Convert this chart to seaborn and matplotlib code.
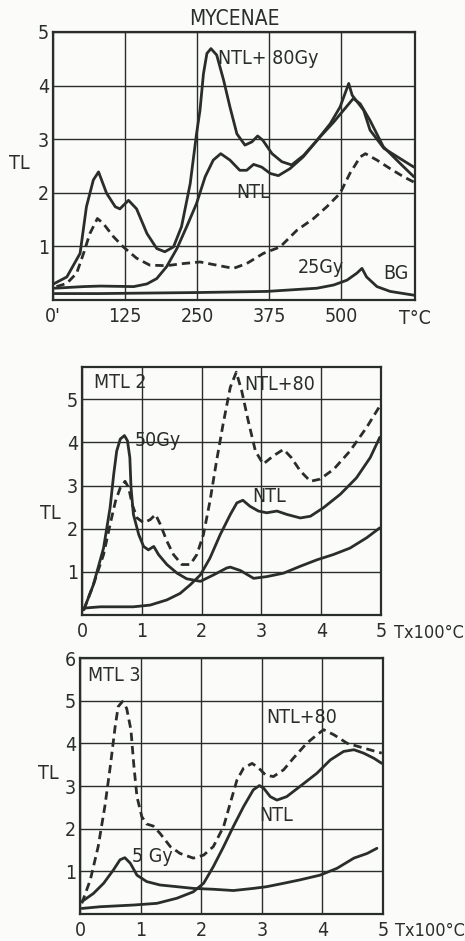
import matplotlib
matplotlib.use("Agg")
import matplotlib.pyplot as plt
import seaborn as sns
import pandas as pd
import numpy as np

# ---------------- Panel 1: MYCENAE (T in deg C) ----------------
myc_ntl80_T = [1, 24, 47, 58, 70, 79, 93, 108, 116, 131, 145, 163, 180, 194, 209, 223, 238, 249, 255,
               261, 267, 274, 284, 296, 307, 319, 333, 345, 355, 364, 380, 397, 414, 435, 458, 481,
               498, 513, 519, 539, 550, 574, 602, 626]
myc_ntl80_TL = [0.30, 0.43, 0.87, 1.74, 2.24, 2.39, 1.99, 1.74, 1.70, 1.86, 1.70, 1.24, 0.96, 0.90, 0.99,
                1.37, 2.17, 3.10, 3.54, 4.22, 4.60, 4.69, 4.57, 4.10, 3.60, 3.10, 2.89, 2.95, 3.06, 2.98,
                2.73, 2.58, 2.52, 2.70, 2.98, 3.29, 3.60, 4.04, 3.82, 3.54, 3.17, 2.83, 2.64, 2.48]

myc_ntl_T = [3, 53, 82, 140, 163, 180, 197, 215, 232, 249, 264, 278, 291, 307, 324, 336, 348, 362, 377,
             391, 411, 434, 463, 487, 504, 521, 533, 550, 573, 602, 626]
myc_ntl_TL = [0.22, 0.25, 0.26, 0.25, 0.30, 0.40, 0.62, 0.96, 1.37, 1.80, 2.30, 2.61, 2.73, 2.61, 2.42,
              2.42, 2.53, 2.48, 2.36, 2.32, 2.45, 2.67, 3.04, 3.32, 3.54, 3.76, 3.66, 3.35, 2.86, 2.55, 2.30]

myc_25_T = [6, 24, 41, 53, 64, 77, 87, 105, 122, 145, 168, 197, 226, 255, 284, 313, 336, 365, 394, 423,
            452, 475, 498, 515, 533, 542, 562, 585, 608, 626]
myc_25_TL = [0.25, 0.31, 0.50, 0.87, 1.24, 1.52, 1.43, 1.18, 0.99, 0.78, 0.65, 0.64, 0.68, 0.71, 0.65,
             0.59, 0.68, 0.87, 0.99, 1.30, 1.52, 1.74, 1.99, 2.36, 2.67, 2.73, 2.61, 2.45, 2.30, 2.20]

myc_bg_T = [3, 81, 255, 371, 458, 487, 510, 527, 536, 544, 562, 585, 626]
myc_bg_TL = [0.12, 0.12, 0.14, 0.16, 0.22, 0.28, 0.37, 0.50, 0.59, 0.43, 0.25, 0.16, 0.09]

# ---------------- Panel 2: MTL 2 (T x 100 deg C) ----------------
mtl2_ntl80_T = [0.03, 0.19, 0.36, 0.47, 0.56, 0.64, 0.72, 0.78, 0.84, 0.92, 1.03, 1.14, 1.23, 1.31, 1.42,
                1.53, 1.67, 1.81, 1.92, 2.03, 2.14, 2.25, 2.36, 2.48, 2.58, 2.67, 2.78, 2.90, 3.03, 3.20,
                3.37, 3.50, 3.65, 3.82, 3.98, 4.21, 4.48, 4.76, 5.00]
mtl2_ntl80_TL = [0.12, 0.70, 1.40, 2.10, 2.64, 2.95, 3.10, 2.95, 2.56, 2.25, 2.14, 2.21, 2.33, 2.10, 1.71,
                 1.40, 1.17, 1.17, 1.40, 1.86, 2.64, 3.57, 4.43, 5.28, 5.63, 5.20, 4.50, 3.80, 3.50, 3.69,
                 3.84, 3.65, 3.34, 3.10, 3.15, 3.38, 3.80, 4.35, 4.89]

mtl2_50_T = [0.03, 0.19, 0.36, 0.47, 0.53, 0.58, 0.64, 0.71, 0.76, 0.80, 0.82, 0.86, 0.95, 1.03, 1.11,
             1.20, 1.28, 1.42, 1.59, 1.75, 1.98, 2.20, 2.42, 2.48, 2.65, 2.87, 3.09, 3.37, 3.65, 3.93,
             4.20, 4.48, 4.76, 4.98]
mtl2_50_TL = [0.12, 0.70, 1.55, 2.49, 3.26, 3.80, 4.08, 4.16, 4.04, 3.65, 2.95, 2.33, 1.86, 1.59, 1.51,
              1.59, 1.40, 1.17, 0.97, 0.84, 0.78, 0.93, 1.09, 1.11, 1.03, 0.85, 0.89, 0.97, 1.13, 1.28,
              1.40, 1.55, 1.79, 2.02]

mtl2_ntl_T = [0.03, 0.31, 0.86, 1.14, 1.42, 1.64, 1.81, 1.98, 2.14, 2.31, 2.48, 2.59, 2.69, 2.81, 2.95,
              3.09, 3.26, 3.43, 3.65, 3.82, 4.04, 4.32, 4.59, 4.82, 4.98]
mtl2_ntl_TL = [0.16, 0.19, 0.19, 0.23, 0.35, 0.50, 0.70, 0.93, 1.32, 1.86, 2.33, 2.60, 2.66, 2.52, 2.41,
               2.37, 2.41, 2.33, 2.25, 2.29, 2.49, 2.80, 3.18, 3.65, 4.12]

# ---------------- Panel 3: MTL 3 (T x 100 deg C) ----------------
mtl3_ntl80_T = [0.03, 0.17, 0.30, 0.41, 0.50, 0.58, 0.63, 0.70, 0.77, 0.84, 0.89, 0.94, 1.02, 1.10, 1.21,
                1.32, 1.49, 1.65, 1.87, 2.04, 2.20, 2.37, 2.48, 2.59, 2.70, 2.84, 2.95, 3.06, 3.19, 3.36,
                3.52, 3.74, 3.91, 4.02, 4.19, 4.41, 4.68, 4.98]
mtl3_ntl80_TL = [0.25, 0.80, 1.58, 2.52, 3.46, 4.39, 4.86, 4.98, 4.82, 4.32, 3.46, 2.75, 2.28, 2.11, 2.06,
                 1.89, 1.58, 1.42, 1.31, 1.38, 1.58, 2.05, 2.60, 3.14, 3.42, 3.53, 3.42, 3.26, 3.22, 3.38,
                 3.65, 4.00, 4.20, 4.32, 4.20, 4.00, 3.89, 3.77]

mtl3_5_T = [0.03, 0.22, 0.39, 0.55, 0.66, 0.74, 0.83, 0.94, 1.10, 1.32, 1.60, 1.87, 2.20, 2.53, 2.86,
            3.08, 3.36, 3.63, 3.96, 4.24, 4.52, 4.74, 4.90]
mtl3_5_TL = [0.29, 0.48, 0.72, 1.03, 1.27, 1.32, 1.19, 0.91, 0.76, 0.68, 0.64, 0.60, 0.58, 0.55, 0.60,
             0.64, 0.72, 0.80, 0.91, 1.07, 1.31, 1.42, 1.54]

mtl3_ntl_T = [0.03, 0.33, 0.88, 1.27, 1.60, 1.87, 2.04, 2.20, 2.37, 2.53, 2.70, 2.86, 2.96, 3.03, 3.14,
              3.25, 3.41, 3.63, 3.91, 4.13, 4.35, 4.52, 4.68, 4.85, 4.98]
mtl3_ntl_TL = [0.13, 0.17, 0.21, 0.25, 0.37, 0.52, 0.72, 1.11, 1.58, 2.05, 2.52, 2.91, 3.01, 2.95, 2.75,
               2.67, 2.75, 2.99, 3.30, 3.61, 3.81, 3.85, 3.77, 3.65, 3.53]

# tick labels
myc_xticks = [0, 125, 250, 375, 500]
myc_xlabels = ["0'", "125", "250", "375", "500"]
myc_yticks = [1, 2, 3, 4, 5]
mtl_xticks = [0, 1, 2, 3, 4, 5]
mtl_yticks = [1, 2, 3, 4, 5]
mtl3_yticks = [1, 2, 3, 4, 5, 6]

# ---------------- style ----------------
sns.set_style("white")
INK = "#2a2e2a"
PAPER = "#fbfbf9"
plt.rcParams['font.family'] = ['DejaVu Sans']
plt.rcParams['font.stretch'] = 'condensed'
plt.rcParams['text.color'] = INK
plt.rcParams['xtick.color'] = INK
plt.rcParams['ytick.color'] = INK

FS = 14

fig = plt.figure(figsize=(4.65, 9.41), dpi=100, facecolor=PAPER)

def frame(ax):
    ax.set_facecolor(PAPER)
    for s in ax.spines.values():
        s.set_color(INK)
        s.set_linewidth(1.6)
        s.set_visible(True)
    ax.grid(True, color=INK, linewidth=1.0)
    ax.tick_params(length=0, labelsize=FS)
    ax.tick_params(axis="x", pad=5)
    ax.tick_params(axis="y", pad=3)
    ax.set_xlabel("")
    ax.set_ylabel("")

def draw(ax, x, y, dashed=False):
    df = pd.DataFrame({"T": x, "TL": y})
    sns.lineplot(data=df, x="T", y="TL", ax=ax, color=INK, linewidth=2.0,
                 linestyle=(0, (3, 1.8)) if dashed else "-", sort=False, estimator=None)

# Panel 1
ax1 = fig.add_axes([53/465, 1-300/941, 362/465, 268/941])
draw(ax1, myc_ntl80_T, myc_ntl80_TL)
draw(ax1, myc_ntl_T, myc_ntl_TL)
draw(ax1, myc_25_T, myc_25_TL, dashed=True)
draw(ax1, myc_bg_T, myc_bg_TL)
ax1.set_xlim(0, 628)
ax1.set_ylim(0, 5)
ax1.set_xticks(myc_xticks)
ax1.set_xticklabels(myc_xlabels)
ax1.set_yticks(myc_yticks)
frame(ax1)
ax1.set_title("MYCENAE", fontsize=15, pad=5, color=INK)
ax1.text(-0.092, 0.51, "TL", transform=ax1.transAxes, fontsize=FS, ha="center", va="center")
ax1.text(1.0, -0.068, "T°C", transform=ax1.transAxes, fontsize=FS, ha="center", va="center")
ax1.text(287, 4.5, "NTL+ 80Gy", fontsize=FS, va="center")
ax1.text(318, 2.0, "NTL", fontsize=FS, va="center")
ax1.text(425, 0.6, "25Gy", fontsize=FS, va="center")
ax1.text(573, 0.5, "BG", fontsize=FS, va="center")

# Panel 2
ax2 = fig.add_axes([82/465, 1-615/941, 299/465, 248/941])
draw(ax2, mtl2_ntl80_T, mtl2_ntl80_TL, dashed=True)
draw(ax2, mtl2_50_T, mtl2_50_TL)
draw(ax2, mtl2_ntl_T, mtl2_ntl_TL)
ax2.set_xlim(0, 5)
ax2.set_ylim(0, 5.75)
ax2.set_xticks(mtl_xticks)
ax2.set_yticks(mtl_yticks)
frame(ax2)
ax2.text(-0.105, 0.41, "TL", transform=ax2.transAxes, fontsize=FS, ha="center", va="center")
ax2.text(1.045, -0.072, "Tx100°C", transform=ax2.transAxes, fontsize=13, ha="left", va="center")
ax2.text(0.2, 5.4, "MTL 2", fontsize=FS, va="center")
ax2.text(2.72, 5.35, "NTL+80", fontsize=FS, va="center")
ax2.text(0.88, 4.05, "50Gy", fontsize=FS, va="center")
ax2.text(2.85, 2.75, "NTL", fontsize=FS, va="center")

# Panel 3
ax3 = fig.add_axes([80/465, 1-914/941, 303/465, 256/941])
draw(ax3, mtl3_ntl80_T, mtl3_ntl80_TL, dashed=True)
draw(ax3, mtl3_5_T, mtl3_5_TL)
draw(ax3, mtl3_ntl_T, mtl3_ntl_TL)
ax3.set_xlim(0, 5)
ax3.set_ylim(0, 6)
ax3.set_xticks(mtl_xticks)
ax3.set_yticks(mtl3_yticks)
frame(ax3)
ax3.text(-0.105, 0.55, "TL", transform=ax3.transAxes, fontsize=FS, ha="center", va="center")
ax3.text(1.04, -0.066, "Tx100°C", transform=ax3.transAxes, fontsize=13, ha="left", va="center")
ax3.text(0.13, 5.6, "MTL 3", fontsize=FS, va="center")
ax3.text(3.08, 4.6, "NTL+80", fontsize=FS, va="center")
ax3.text(2.96, 2.3, "NTL", fontsize=FS, va="center")
ax3.text(0.85, 1.35, "5 Gy", fontsize=FS, va="center")

fig.savefig("out.png", dpi=100, facecolor=PAPER)
